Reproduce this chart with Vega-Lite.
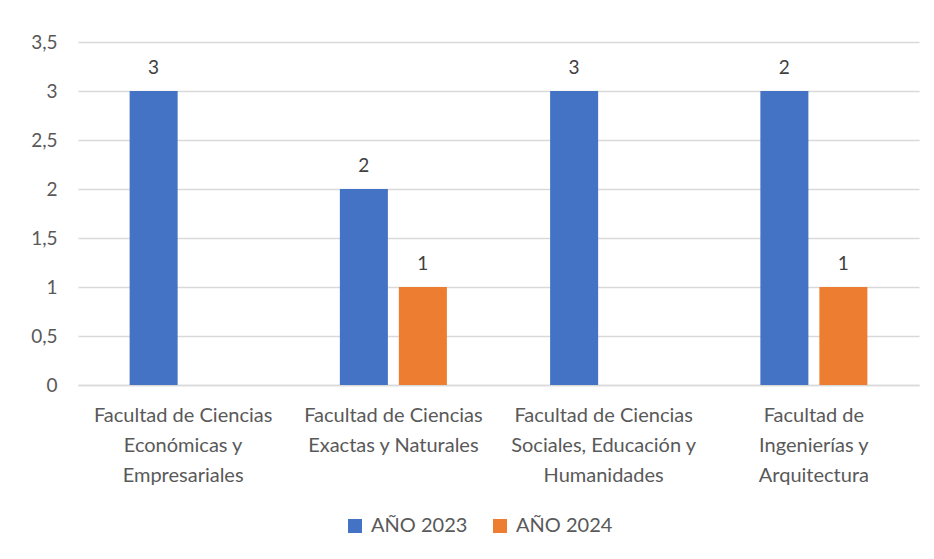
{
  "$schema": "https://vega.github.io/schema/vega-lite/v6.json",
  "autosize": "none",
  "width": 841,
  "height": 343,
  "padding": {"left": 78, "top": 42, "right": 15, "bottom": 174},
  "background": "white",
  "config": {
    "view": {"stroke": null},
    "font": "Lato"
  },
  "data": {
    "values": [
      {"facultad": "Facultad de Ciencias|Económicas y|Empresariales", "anio": "AÑO 2023", "valor": 3, "etiqueta": "3"},
      {"facultad": "Facultad de Ciencias|Exactas y Naturales", "anio": "AÑO 2023", "valor": 2, "etiqueta": "2"},
      {"facultad": "Facultad de Ciencias|Exactas y Naturales", "anio": "AÑO 2024", "valor": 1, "etiqueta": "1"},
      {"facultad": "Facultad de Ciencias|Sociales, Educación y|Humanidades", "anio": "AÑO 2023", "valor": 3, "etiqueta": "3"},
      {"facultad": "Facultad de|Ingenierías y|Arquitectura", "anio": "AÑO 2023", "valor": 3, "etiqueta": "2"},
      {"facultad": "Facultad de|Ingenierías y|Arquitectura", "anio": "AÑO 2024", "valor": 1, "etiqueta": "1"}
    ]
  },
  "encoding": {
    "x": {
      "field": "facultad",
      "type": "nominal",
      "sort": null,
      "scale": {"paddingInner": 0, "paddingOuter": 0},
      "axis": {
        "title": null,
        "labelAngle": 0,
        "labelExpr": "split(datum.label, '|')",
        "labelFontSize": 20,
        "labelLineHeight": 30,
        "labelColor": "#595959",
        "labelPadding": 20,
        "labelLimit": 0,
        "labelOverlap": false,
        "ticks": false,
        "domainColor": "#d9d9d9",
        "domainWidth": 1.3
      }
    },
    "xOffset": {
      "field": "anio",
      "type": "nominal",
      "scale": {"domain": ["AÑO 2023", "AÑO 2024"], "paddingInner": 0.186, "paddingOuter": 0.875}
    },
    "y": {
      "field": "valor",
      "type": "quantitative",
      "scale": {"domain": [0, 3.5], "nice": false},
      "axis": {
        "title": null,
        "values": [0, 0.5, 1, 1.5, 2, 2.5, 3, 3.5],
        "labelExpr": "replace(format(datum.value, '~g'), '.', ',')",
        "labelFontSize": 19,
        "labelColor": "#595959",
        "labelPadding": 21,
        "ticks": false,
        "domain": false,
        "gridColor": "#d9d9d9",
        "gridWidth": 1.3
      }
    }
  },
  "layer": [
    {
      "mark": {"type": "bar"},
      "encoding": {
        "color": {
          "field": "anio",
          "type": "nominal",
          "scale": {"domain": ["AÑO 2023", "AÑO 2024"], "range": ["#4472C4", "#ED7D31"]},
          "legend": {
            "title": null,
            "orient": "none",
            "direction": "horizontal",
            "legendX": 267,
            "legendY": 474,
            "symbolType": "square",
            "symbolSize": 196,
            "symbolStrokeWidth": 0,
            "labelFontSize": 20,
            "labelColor": "#595959",
            "labelOffset": 6,
            "columnPadding": 22
          }
        }
      }
    },
    {
      "mark": {"type": "text", "fontSize": 19, "color": "#404040", "dy": -17, "baseline": "alphabetic"},
      "encoding": {
        "text": {"field": "etiqueta", "type": "nominal"}
      }
    }
  ]
}
